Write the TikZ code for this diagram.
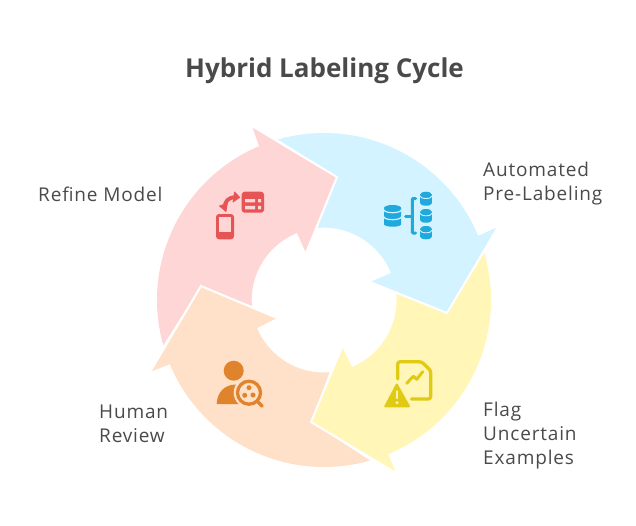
\documentclass[tikz,border=0pt]{standalone}
\usepackage{fontspec}
\usetikzlibrary{calc}
\setmainfont{Open Sans}
\definecolor{pinkbg}{HTML}{FFD6D6}
\definecolor{bluebg}{HTML}{D2F3FF}
\definecolor{yelbg}{HTML}{FFF6B8}
\definecolor{peachbg}{HTML}{FFE0C8}
\definecolor{pinkic}{HTML}{E65555}
\definecolor{blueic}{HTML}{1FA9DC}
\definecolor{yelic}{HTML}{E0CA13}
\definecolor{peachic}{HTML}{E0832D}
\definecolor{ink}{HTML}{4A4A4A}
\tikzset{
  edge/.style={draw=white,line width=2pt,line join=miter,fill=none},
  label/.style={text=ink,font=\fontsize{19}{24}\selectfont\addfontfeature{LetterSpace=4.4},inner sep=0pt,align=left},
  titlelabel/.style={text=ink,font=\fontsize{26}{30}\selectfont\bfseries,inner sep=0pt},
}
% center x, top y, radius x, bottom y, band colour
\newcommand\dbcyl[5]{%
  \fill[#5] (#1-#3,#2+3) -- (#1-#3,#4-2.5) arc[start angle=180,end angle=0,x radius=#3,y radius=2.5]
     -- (#1+#3,#2+3) -- cycle;
  \fill[#5] (#1,#2+3) ellipse[x radius=#3,y radius=3];
}
\begin{document}
\begin{tikzpicture}[x=1pt,y=-1pt]
\useasboundingbox (0,0) rectangle (636,525);
\coordinate (c) at (324,300);
% arrows
\fill[bluebg] ($(c)+(-106:167)$) arc[start angle=-106,end angle=-22.6,radius=167]
  -- (498,227) -- (447,313) -- (370,282) -- (391,273)
  arc[start angle=-22,end angle=-95,radius=72.5] -- (337,177) -- cycle;
\fill[yelbg] ($(c)+(-16.4:167)$) arc[start angle=-16.4,end angle=67.4,radius=167]
  -- (396,473) -- (311,422) -- (342,347) -- (352,367)
  arc[start angle=67.3,end angle=-5,radius=72.5] -- (447,313) -- cycle;
\fill[peachbg] ($(c)+(74:167)$) arc[start angle=74,end angle=157.4,radius=167]
  -- (150,372) -- (201,286) -- (277,318) -- (257,328)
  arc[start angle=157.3,end angle=85.5,radius=72.5] -- (311,422) -- cycle;
\fill[pinkbg] ($(c)+(164.3:167)$) arc[start angle=164.3,end angle=247.1,radius=167]
  -- (252,126) -- (337,177) -- (306,253) -- (297,233)
  arc[start angle=248,end angle=175.5,radius=72.5] -- (201,286) -- cycle;
\draw[edge] (252,126) -- (337,177) -- (306,253);
\draw[edge] (498,227) -- (447,313) -- (370,282);
\draw[edge] (396,473) -- (311,422) -- (342,347);
\draw[edge] (150,372) -- (201,286) -- (277,318);
% pink icon
\fill[pinkic,rounded corners=3pt] (241.7,191.7) rectangle (264,212.7);
\fill[pinkbg] (245,199) rectangle (255,202.4) (258,199) rectangle (261,202.4)
   (245,205.9) rectangle (255,209.3) (258,205.9) rectangle (261,209.3);
\fill[pinkic,rounded corners=3pt] (216,214) rectangle (234,239.3);
\fill[pinkbg] (219.3,217.3) rectangle (230.7,231.7);
\fill[pinkic,draw=pinkic,line width=.8pt,line join=round] (219.5,206) -- (227.3,203.3) -- (226,211.5) -- cycle;
\fill[pinkic,draw=pinkic,line width=.8pt,line join=round] (234.5,192) -- (239.7,197.3) -- (233,202) -- cycle;
\draw[pinkic,line width=3.8pt] (224.8,207) .. controls (224.5,201) and (229,197.5) .. (235,197);
% blue icon
\dbcyl{392.6}{205}{8.6}{226.7}{blueic}
\draw[bluebg,line width=1.2pt] (383.8,209.7) arc[start angle=180,end angle=0,x radius=8.8,y radius=3];
\draw[bluebg,line width=1.2pt] (383.8,216.7) arc[start angle=180,end angle=0,x radius=8.8,y radius=3];
\dbcyl{426}{191.7}{5.9}{205.7}{blueic}
\draw[bluebg,line width=.9pt] (420,196) arc[start angle=180,end angle=0,x radius=6,y radius=2.5];
\dbcyl{426}{209}{5.9}{222.7}{blueic}
\draw[bluebg,line width=.9pt] (420,213.3) arc[start angle=180,end angle=0,x radius=6,y radius=2.5];
\dbcyl{426}{226}{5.9}{239.3}{blueic}
\draw[bluebg,line width=.9pt] (420,230.3) arc[start angle=180,end angle=0,x radius=6,y radius=2.5];
\draw[blueic,line width=3pt,line cap=round,rounded corners=1pt] (415.5,198.5) -- (412.3,198.5) -- (412.3,233) -- (415.5,233);
\draw[blueic,line width=3pt,line cap=round] (405.5,216) -- (412,216);
% yellow icon
\draw[yelic,line width=3.3pt,line cap=round,line join=round,rounded corners=2.5pt]
  (397.7,379) -- (397.7,361.7) -- (421.5,361.7) -- (430.7,370.5) -- (430.7,399) -- (411.5,399);
\draw[yelic,line width=3pt,line cap=round,line join=round]
  (406.7,383.3) -- (413.3,376.3) -- (416.7,379.3) -- (422.7,371.7);
\fill[yelic,draw=yelic,line width=2pt,line join=round] (396.8,384.5) -- (385.3,406.3) -- (409,406.3) -- cycle;
\draw[yelbg,line width=2.6pt,line cap=round] (397,391.5) -- (397,398);
\fill[yelbg] (397,402.7) circle[radius=1.6];
% peach icon
\fill[peachic] (233.7,370.7) circle[radius=10];
\fill[peachic] (216.7,404) .. controls (217,393) and (224,384.5) .. (236,384.5) -- (246,384.5) -- (246,404) -- cycle;
\fill[peachbg] (249,392.7) circle[radius=15.3];
\draw[peachic,line width=3.3pt] (249,392.7) circle[radius=11.5];
\fill[peachic] (249,387.7) circle[radius=2.5] (244.7,395.3) circle[radius=2.5] (253,395) circle[radius=2.5];
\draw[peachic,line width=3.3pt,line cap=round] (257.5,401.5) -- (262.3,406.3);
% text
\node[titlelabel,anchor=center] (title) at (324.5,71) {Hybrid Labeling Cycle};
\node[label,anchor=west] (auto) at (483,183.5) {Automated\\Pre-Labeling};
\node[label,anchor=west] (flag) at (483,435.5) {Flag\\Uncertain\\Examples};
\node[label,anchor=west] (human) at (99,423.5) {Human\\Review};
\node[label,anchor=west] (refine) at (38,194) {Refine Model};
\end{tikzpicture}
\end{document}
